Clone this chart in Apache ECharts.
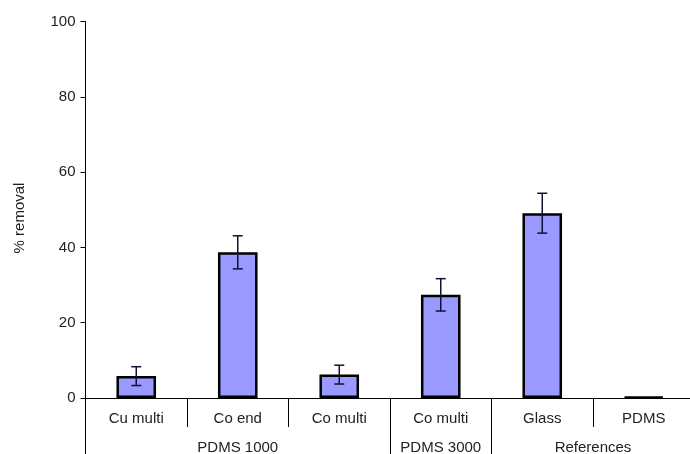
<!DOCTYPE html>
<html>
<head>
<meta charset="utf-8">
<script src="https://cdn.jsdelivr.net/npm/echarts@6/dist/echarts.min.js"></script>
<style>
  html, body { margin: 0; padding: 0; background: #fff; }
  #chart { width: 690px; height: 454px; }
</style>
</head>
<body>
<div id="chart"></div>
<script>
// Sample categories and their grouping
const categories = ['Cu multi', 'Co end', 'Co multi', 'Co multi', 'Glass', 'PDMS'];
const groupNames = ['PDMS 1000', 'PDMS 3000', 'References'];
const groupSpans = [3, 1, 2];

// Mean % removal and standard deviation per sample
const removal = [5.8, 38.7, 6.2, 27.4, 49.1, 0.3];
const errors = [2.5, 4.4, 2.5, 4.3, 5.3, 0];

// Y tick values
const yTicks = [0, 20, 40, 60, 80, 100];

// Group boundaries and centres in category units
const groupEdges = [0];
const groupCentres = [];
groupSpans.forEach((s, i) => {
  const start = groupEdges[groupEdges.length - 1];
  groupCentres.push(start + s / 2);
  groupEdges.push(start + s);
});

const FONT = 'Liberation Sans, Arial, sans-serif';
const TEXT = '#222';

const errData = removal.map((v, i) => [i, v - errors[i], v + errors[i]]);

const chart = echarts.init(document.getElementById('chart'));
chart.setOption({
  animation: false,
  grid: {
    left: 85.5, right: -4.5, top: 21.7, bottom: 0,
    containLabel: false, outerBoundsMode: 'none'
  },
  xAxis: [
    {
      // sample axis, lifted to the zero line
      type: 'category',
      data: categories,
      boundaryGap: true,
      position: 'bottom',
      offset: -56,
      axisLine: { onZero: false, lineStyle: { color: '#000', width: 1 } },
      axisTick: { show: true, interval: 0, length: 29, lineStyle: { color: '#000' } },
      axisLabel: { interval: 0, margin: 13, color: TEXT, fontSize: 15, fontFamily: FONT },
      splitLine: { show: false }
    },
    {
      // group axis below the samples
      type: 'value',
      min: 0,
      max: categories.length,
      position: 'bottom',
      offset: -56,
      axisLine: { show: false, onZero: false },
      axisTick: {
        show: true, length: 56, customValues: groupEdges,
        lineStyle: { color: '#000' }
      },
      axisLabel: {
        customValues: groupCentres,
        margin: 42,
        color: TEXT, fontSize: 15, fontFamily: FONT,
        formatter: v => groupNames[groupCentres.indexOf(v)]
      },
      splitLine: { show: false }
    }
  ],
  yAxis: {
    type: 'value',
    min: -14.9,
    max: 100,
    axisLine: { show: true, lineStyle: { color: '#000', width: 1 } },
    axisTick: { show: true, length: 5, customValues: yTicks, lineStyle: { color: '#000' } },
    axisLabel: { customValues: yTicks, margin: 10, color: TEXT, fontSize: 15, fontFamily: FONT },
    splitLine: { show: false }
  },
  graphic: [{
    type: 'text',
    x: 20, y: 218,
    rotation: Math.PI / 2,
    style: {
      text: '% removal',
      fill: TEXT, fontSize: 15, fontFamily: FONT,
      align: 'center', verticalAlign: 'middle'
    }
  }],
  series: [
    {
      type: 'bar',
      xAxisIndex: 0,
      data: removal,
      barWidth: '39%',
      z: 3,
      itemStyle: { color: '#9999ff', borderColor: '#000', borderWidth: 2.5 }
    },
    {
      type: 'custom',
      xAxisIndex: 0,
      data: errData,
      z: 10,
      renderItem: function (params, api) {
        const i = api.value(0);
        if (errors[i] <= 0) return null;
        const lo = api.coord([i, api.value(1)]);
        const hi = api.coord([i, api.value(2)]);
        const hw = 5;
        const style = { stroke: '#111133', lineWidth: 1.5 };
        return {
          type: 'group',
          children: [
            { type: 'line', shape: { x1: hi[0], y1: hi[1], x2: lo[0], y2: lo[1] }, style },
            { type: 'line', shape: { x1: hi[0] - hw, y1: hi[1], x2: hi[0] + hw, y2: hi[1] }, style },
            { type: 'line', shape: { x1: lo[0] - hw, y1: lo[1], x2: lo[0] + hw, y2: lo[1] }, style }
          ]
        };
      }
    }
  ]
});
</script>
</body>
</html>
